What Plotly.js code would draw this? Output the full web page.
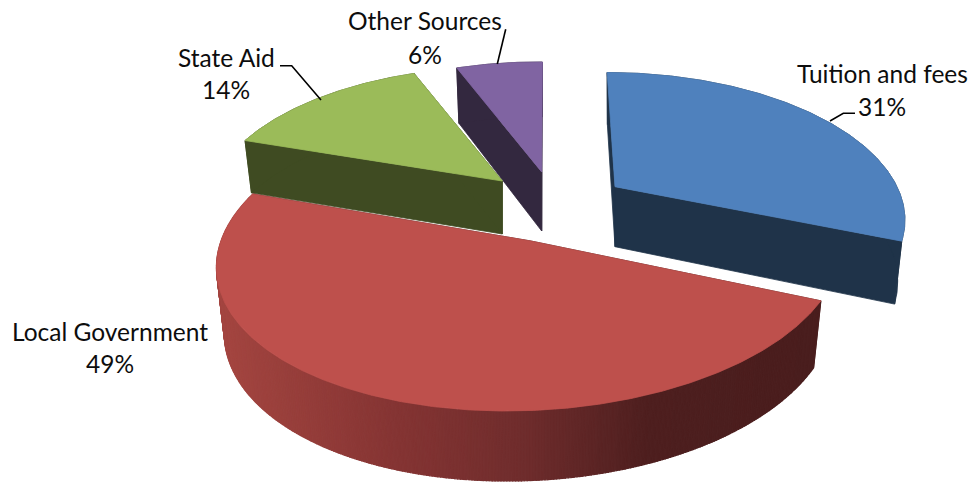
<!DOCTYPE html>
<html>
<head>
<meta charset="utf-8">
<script src="https://cdn.plot.ly/plotly-3.0.1.min.js"></script>
<style>html,body{margin:0;padding:0;background:#fff}#chart{width:976px;height:485px}</style>
</head>
<body>
<div id="chart"></div>
<script>
// ---- data ----
var categories = ["Tuition and fees", "Local Government", "State Aid", "Other Sources"];
var shares = [31, 49, 14, 6];

// ---- drawing style: one entry per slice, same order as categories ----
var topColors = ["#4F81BD", "#BE504C", "#9BBB59", "#8064A2"];
var sideColors = ["#1F3349", null, "#3F4B22", "#33283F"];
var redStops = [[225, [163, 69, 64]], [400, [132, 52, 51]], [520, [112, 45, 45]], [650, [78, 31, 31]], [820, [74, 30, 30]]];
var views = [
  {ax: 615,   ay: 186.7, R: 282, A: 137, p: 0.20, s: 9.4, rot: 0,   d0: 60, d1: 8},
  {ax: 531,   ay: 241,   R: 310, A: 153, p: 0.10, s: -22, rot: 0.5, d0: 65, d1: 5},
  {ax: 502.3, ay: 181,   R: 288, A: 137, p: 0.20, s: 0,   rot: 0.3, d0: 53, d1: 2},
  {ax: 541.7, ay: 172,   R: 276, A: 132, p: 0.20, s: 4,   rot: 1,   d0: 59, d1: 4}
];
var labelSpots = [
  {x: 882, yName: 73, yPct: 106},
  {x: 110, yName: 331, yPct: 363},
  {x: 226, yName: 57, yPct: 89},
  {x: 425, yName: 20, yPct: 54}
];
var leaders = [
  {x: [855, 843.3, 830], y: [113.3, 113.3, 121]},
  null,
  {x: [280, 291.7, 321], y: [65.7, 65.7, 100]},
  {x: [505.7, 497.3], y: [29.3, 64]}
];
var paintOrder = [3, 2, 0, 1];
var shrink = 0.975, BANDS = 200;

var total = shares.reduce(function (a, b) { return a + b; }, 0);
function project(view, deg) {
  var t = deg * Math.PI / 180, u = Math.sin(t), v = -Math.cos(t);
  var f = 1 / (1 - view.p * v);
  return {x: view.ax + (u * view.R + view.s * v) * f, y: view.ay + v * view.A * f, v: v};
}
function lower(view, q) {
  return {x: view.ax + (q.x - view.ax) * shrink, y: q.y + view.d0 + view.d1 * q.v};
}
function polyTrace(points, color, name, lineWidth) {
  return {type: "scatter", mode: "lines", x: points.map(function (q) { return q ? q.x : null; }),
    y: points.map(function (q) { return q ? q.y : null; }), fill: "toself", fillcolor: color,
    line: {color: color, width: lineWidth === undefined ? 0.8 : lineWidth}, hoverinfo: name ? "text" : "skip", text: name || "", showlegend: false, name: name || ""};
}
function redAt(x) {
  for (var i = 1; i < redStops.length; i++) {
    if (x <= redStops[i][0]) {
      var a = redStops[i - 1], b = redStops[i], k = Math.max(0, (x - a[0]) / (b[0] - a[0]));
      return "rgb(" + [0, 1, 2].map(function (c) { return Math.round(a[1][c] + (b[1][c] - a[1][c]) * k); }).join(",") + ")";
    }
  }
  return "rgb(" + redStops[redStops.length - 1][1].join(",") + ")";
}

var traces = [], starts = [], cum = 0;
shares.forEach(function (s) { starts.push(cum / total * 360); cum += s; });

paintOrder.forEach(function (i) {
  var view = views[i], a0 = starts[i] + view.rot, a1 = a0 + shares[i] / total * 360;
  var n = Math.ceil((a1 - a0) / 0.5), arc = [];
  for (var k = 0; k <= n; k++) arc.push(project(view, a0 + (a1 - a0) * k / n));
  var apex = {x: view.ax, y: view.ay, v: 0};
  var dark = sideColors[i] || redAt(820);
  // flat cut faces
  [arc[0], arc[n]].forEach(function (q) {
    traces.push(polyTrace([apex, q, lower(view, q), lower(view, apex), apex], dark));
  });
  // rim
  if (sideColors[i]) {
    var rim = arc.slice();
    arc.slice().reverse().forEach(function (q) { rim.push(lower(view, q)); });
    rim.push(arc[0]);
    traces.push(polyTrace(rim, dark));
  } else {
    var bands = {};
    for (var m = 0; m < n; m++) {
      var mid = (arc[m].x + arc[m + 1].x) / 2, key = Math.floor(mid / (976 / BANDS));
      (bands[key] = bands[key] || []).push(arc[m], arc[m + 1], lower(view, arc[m + 1]), lower(view, arc[m]), arc[m], null);
    }
    Object.keys(bands).forEach(function (key) {
      traces.push(polyTrace(bands[key], redAt((+key + 0.5) * 976 / BANDS), null, 1.2));
    });
  }
  // top face
  traces.push(polyTrace([apex].concat(arc, [apex]), topColors[i], categories[i] + ": " + shares[i] + "%"));
});

leaders.forEach(function (l) {
  if (l) traces.push({type: "scatter", mode: "lines", x: l.x, y: l.y, line: {color: "#000", width: 1.6}, hoverinfo: "skip", showlegend: false});
});

var annotations = [];
categories.forEach(function (c, i) {
  var base = {xref: "x", yref: "y", x: labelSpots[i].x, showarrow: false, xanchor: "center", yanchor: "middle",
    font: {family: "Lato, 'Open Sans', sans-serif", size: 24.5, color: "#0d0d0d"}};
  annotations.push(Object.assign({}, base, {y: labelSpots[i].yName, text: c}));
  annotations.push(Object.assign({}, base, {y: labelSpots[i].yPct, text: shares[i] + "%"}));
});

Plotly.newPlot("chart", traces, {
  width: 976, height: 485, margin: {l: 0, r: 0, t: 0, b: 0}, showlegend: false,
  paper_bgcolor: "#fff", plot_bgcolor: "#fff",
  xaxis: {range: [0, 976], visible: false, fixedrange: true},
  yaxis: {range: [485, 0], visible: false, fixedrange: true},
  annotations: annotations
}, {displayModeBar: false, staticPlot: false});
</script>
</body>
</html>
